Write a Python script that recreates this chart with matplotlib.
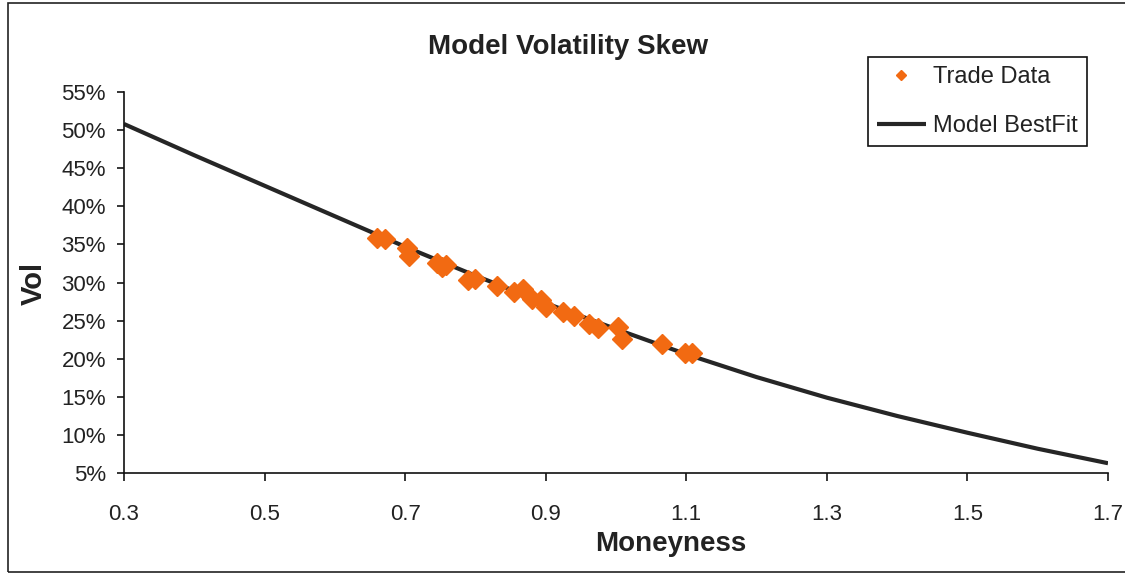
import numpy as np
import matplotlib
matplotlib.use("Agg")
import matplotlib.pyplot as plt
from matplotlib.patches import Rectangle
from matplotlib.ticker import FuncFormatter

plt.rcParams['font.family'] = ['Liberation Sans', 'DejaVu Sans']

# model best-fit curve
model_x = [0.3, 0.4, 0.5, 0.6, 0.7, 0.8, 0.9, 1.0, 1.1, 1.2, 1.3, 1.4, 1.5, 1.6, 1.7]
model_vol = [0.508, 0.467, 0.427, 0.387, 0.347, 0.309, 0.273, 0.239, 0.206,
             0.176, 0.149, 0.125, 0.103, 0.082, 0.063]

# trade data points
trade_x = [0.660, 0.672, 0.702, 0.706, 0.745, 0.752, 0.758, 0.790, 0.800,
           0.830, 0.855, 0.868, 0.880, 0.893, 0.900, 0.925, 0.940,
           0.962, 0.975, 1.003, 1.009, 1.066, 1.098, 1.108]
trade_vol = [0.358, 0.357, 0.345, 0.335, 0.325, 0.320, 0.323, 0.303, 0.305,
             0.295, 0.288, 0.291, 0.279, 0.277, 0.268, 0.262, 0.256,
             0.246, 0.240, 0.242, 0.226, 0.219, 0.207, 0.208]

x_ticks = [0.3, 0.5, 0.7, 0.9, 1.1, 1.3, 1.5, 1.7]
y_ticks = [0.05, 0.10, 0.15, 0.20, 0.25, 0.30, 0.35, 0.40, 0.45, 0.50, 0.55]

txt = '#222222'
orange = '#F26A12'

fig = plt.figure(figsize=(11.25, 5.77), dpi=100)
ax = fig.add_axes([0.1102, 0.180, 0.8747, 0.6606])

ax.plot(model_x, model_vol, color='#262626', lw=3.0, zorder=2,
        label='Model BestFit', solid_capstyle='butt')
ax.plot(trade_x, trade_vol, ls='none', marker='D', ms=10.5, color=orange,
        mec=orange, zorder=3, label='Trade Data')

ax.set_xlim(0.3, 1.7)
ax.set_ylim(0.05, 0.55)
ax.set_xticks(x_ticks)
ax.set_yticks(y_ticks)
ax.xaxis.set_major_formatter(FuncFormatter(lambda v, p: '%g' % round(v, 1)))
ax.yaxis.set_major_formatter(FuncFormatter(lambda v, p: '%d%%' % round(v * 100)))

for s in ['top', 'right']:
    ax.spines[s].set_visible(False)
for s in ['left', 'bottom']:
    ax.spines[s].set_linewidth(1.2)
    ax.spines[s].set_color('#111111')

ax.tick_params(axis='y', direction='out', length=5, width=1.1, pad=8,
               labelsize=16, labelcolor=txt)
ax.tick_params(axis='x', direction='out', length=5.5, width=1.1, pad=17,
               labelsize=16, labelcolor=txt)

fig.text(0.505, 0.918, 'Model Volatility Skew', ha='center', va='center',
         fontsize=20, fontweight='bold', color=txt)
fig.text(0.596, 0.058, 'Moneyness', ha='center', va='center',
         fontsize=20, fontweight='bold', color=txt)
fig.text(0.030, 0.508, 'Vol', ha='center', va='center', rotation=90,
         fontsize=21, fontweight='bold', color=txt)

handles, labels = ax.get_legend_handles_labels()
leg = ax.legend(handles[::-1], labels[::-1], loc='upper right',
                bbox_to_anchor=(0.9662, 0.9012), bbox_transform=fig.transFigure,
                fontsize=17, frameon=True, fancybox=False, framealpha=1,
                edgecolor='#111111', markerscale=0.5, handlelength=2.1,
                handletextpad=0.3, labelspacing=1.15, borderpad=0.38,
                borderaxespad=0)
leg.get_frame().set_linewidth(1.2)
for t in leg.get_texts():
    t.set_color(txt)

# outer chart border (right edge falls outside the picture)
fig.patches.append(Rectangle((8 / 1125, 5 / 577), 1130 / 1125, 569 / 577,
                             transform=fig.transFigure, fill=False,
                             edgecolor='#222222', lw=1.2))

fig.savefig('out.png', dpi=100)
